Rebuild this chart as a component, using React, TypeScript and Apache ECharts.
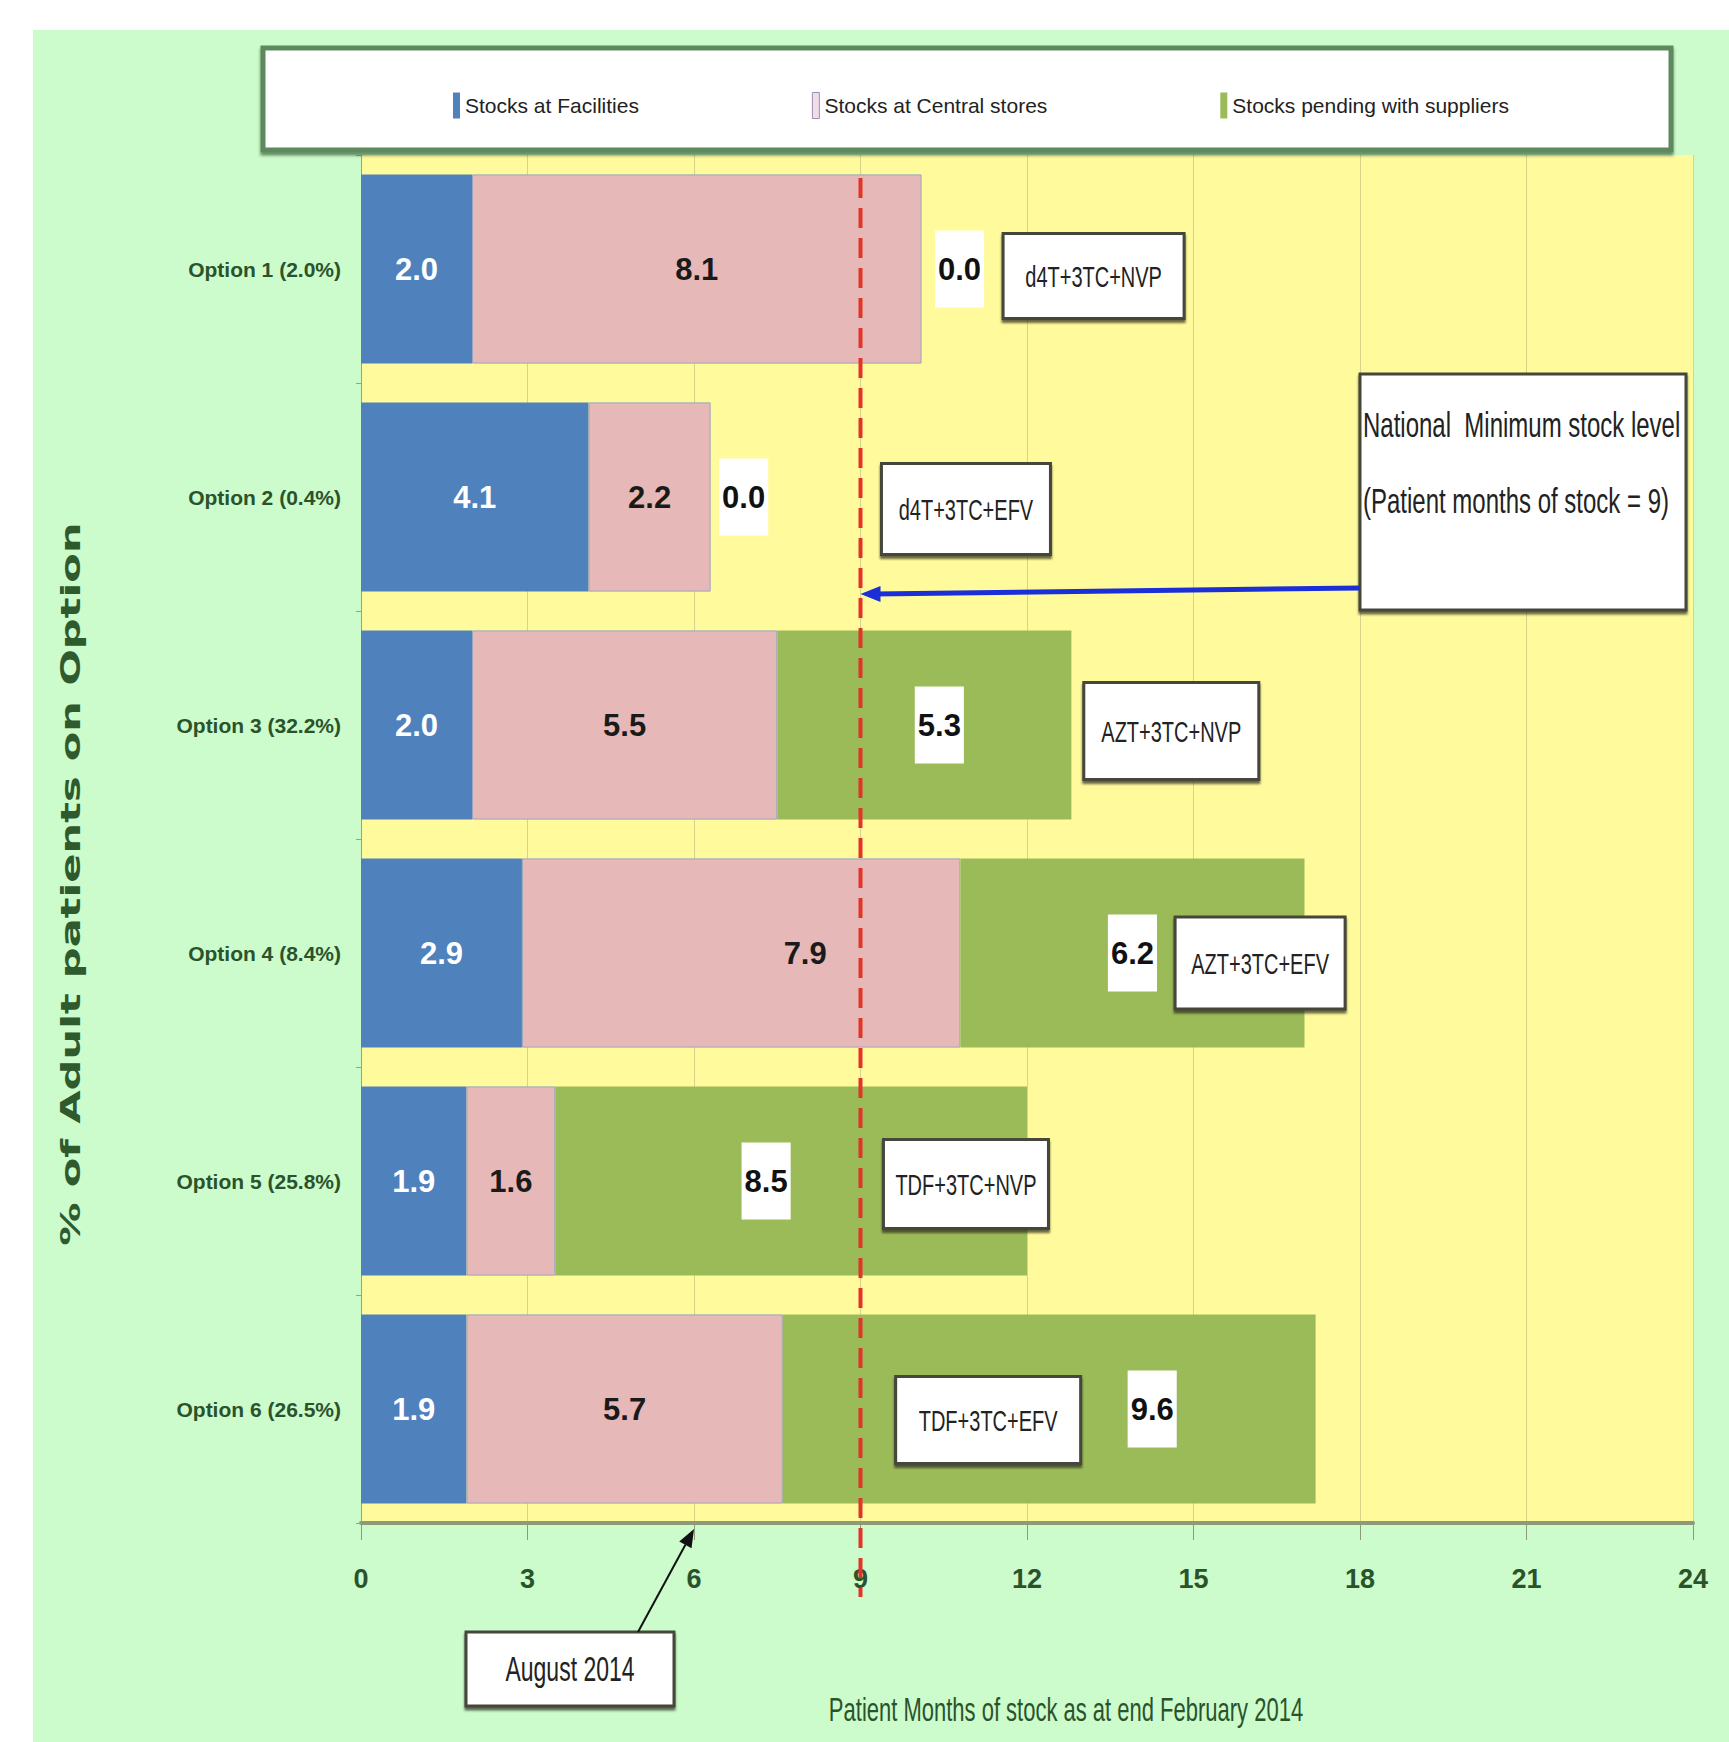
import React, { useEffect, useRef } from "react";
import * as echarts from "echarts";

const categories = [
  "Option 1 (2.0%)",
  "Option 2 (0.4%)",
  "Option 3 (32.2%)",
  "Option 4 (8.4%)",
  "Option 5 (25.8%)",
  "Option 6 (26.5%)",
];
const facilities = [2.0, 4.1, 2.0, 2.9, 1.9, 1.9];
const central = [8.1, 2.2, 5.5, 7.9, 1.6, 5.7];
const pending = [0.0, 0.0, 5.3, 6.2, 8.5, 9.6];
const regimens = ["d4T+3TC+NVP", "d4T+3TC+EFV", "AZT+3TC+NVP", "AZT+3TC+EFV", "TDF+3TC+NVP", "TDF+3TC+EFV"];
const regimenAt = [13.2, 10.9, 14.6, 16.2, 10.9, 11.3];
const seriesNames = ["Stocks at Facilities", "Stocks at Central stores", "Stocks pending with suppliers"];
const xMin = 0;
const xMax = 24;
const xInterval = 3;
const minStockLevel = 9;
const augustMark = 6;
const noteAnchor = 18;

const SANS = '"Liberation Sans", Arial, sans-serif';
const DARKGREEN = "#2b532b";
const GRID = { left: 361, right: 36, top: 155, bottom: 219 };
const W = 1729;
const H = 1742;
const TALL = 1.5;

export default function App() {
  const ref = useRef<HTMLDivElement>(null);
  useEffect(() => {
    const chart = echarts.init(ref.current!, null, { renderer: "svg" });
    const centralOffsets = [0, 0, 0, 64, 0, 0];
    const pendingOffsets = [38, 33, 15, 0, -25, 103];
    const boxW = [181, 169, 175, 170, 165, 185];
    const boxH = [85, 91, 97, 92, 89, 87];
    const boxDy = [7, 12, 6, 10, 3, 11];

    const valueLabel = (color: string) => ({
      show: true,
      position: "inside",
      color,
      fontFamily: SANS,
      fontWeight: "bold",
      fontSize: 31,
      formatter: (p: any) => Number(p.value).toFixed(1),
    });

    chart.setOption({
      animation: false,
      backgroundColor: "#ccfbcc",
      textStyle: { fontFamily: SANS },
      legend: {
        left: 448,
        top: 87,
        itemGap: 173,
        itemWidth: 7,
        itemHeight: 26,
        icon: "rect",
        textStyle: { fontFamily: SANS, fontSize: 21, color: "#222" },
        data: [
          { name: seriesNames[0] },
          { name: seriesNames[1], itemStyle: { color: "#f0dde8", borderColor: "#9a8fb0", borderWidth: 1 } },
          { name: seriesNames[2] },
        ],
      },
      grid: {
        ...GRID,
        show: true,
        backgroundColor: "#fffa9c",
        borderWidth: 0,
      },
      xAxis: {
        type: "value",
        min: xMin,
        max: xMax,
        interval: xInterval,
        axisLine: { show: true, lineStyle: { color: "#8c9a78", width: 4 } },
        axisTick: { show: true, length: 17, lineStyle: { color: "#8c9a78", width: 1 } },
        axisLabel: { color: DARKGREEN, fontFamily: SANS, fontWeight: "bold", fontSize: 27, margin: 42 },
        splitLine: { show: true, lineStyle: { color: "#d6d48c", width: 1 } },
      },
      yAxis: {
        type: "category",
        data: categories,
        inverse: true,
        axisLine: { show: true, lineStyle: { color: "#9aa08a", width: 1 } },
        axisTick: { show: true, length: 5, lineStyle: { color: "#9aa08a" } },
        axisLabel: { color: DARKGREEN, fontFamily: SANS, fontWeight: "bold", fontSize: 21, margin: 20 },
        splitLine: { show: false },
      },
      series: [
        {
          name: seriesNames[0],
          type: "bar",
          stack: "stock",
          barCategoryGap: "17%",
          itemStyle: { color: "#4f81bd" },
          label: valueLabel("#ffffff"),
          data: facilities,
        },
        {
          name: seriesNames[1],
          type: "bar",
          stack: "stock",
          itemStyle: { color: "#e6b8b7", borderColor: "#9aa6bf", borderWidth: 1 },
          label: valueLabel("#1a1a1a"),
          data: central.map((v, i) => ({ value: v, label: { offset: [centralOffsets[i], 0] } })),
        },
        {
          name: seriesNames[2],
          type: "bar",
          stack: "stock",
          itemStyle: { color: "#9bbb59" },
          label: {
            ...valueLabel("#111111"),
            backgroundColor: "#ffffff",
            padding: [24, 3, 22, 3],
          },
          data: pending.map((v, i) => ({ value: v, label: { offset: [pendingOffsets[i], 0] } })),
        },
      ],
    });

    const xp = (v: number) => chart.convertToPixel({ xAxisIndex: 0 }, v) as number;
    const yp = (c: string) => chart.convertToPixel({ yAxisIndex: 0 }, c) as number;
    const plotBottom = H - GRID.bottom;
    const x9 = xp(minStockLevel);
    const x6 = xp(augustMark);
    const x18 = xp(noteAnchor);

    // August arrow geometry
    const ax0 = x6 - 56, ay0 = 1632, ax1 = x6, ay1 = plotBottom + 6;
    const len = Math.hypot(ax1 - ax0, ay1 - ay0);
    const ux = (ax1 - ax0) / len, uy = (ay1 - ay0) / len;
    const head = 18, hw = 7;
    const bx = ax1 - ux * head, by = ay1 - uy * head;

    const boxStyle = {
      fill: "#ffffff",
      stroke: "#45473a",
      lineWidth: 3,
      shadowColor: "rgba(40,40,30,0.7)",
      shadowOffsetY: 3,
      shadowBlur: 2,
    };

    const tallText = (x: number, y: number, text: string, size: number, align: string, fill = "#222", weight = "normal") => ({
      type: "text",
      x,
      y,
      scaleY: TALL,
      style: { text, fill, font: `${weight} ${size}px ${SANS}`, align, verticalAlign: "middle" },
      z: 61,
      silent: true,
    });

    const regimenBoxes: any[] = [];
    regimens.forEach((r, i) => {
      const cx = xp(regimenAt[i]);
      const cy = yp(categories[i]) + boxDy[i];
      regimenBoxes.push({
        type: "rect",
        shape: { x: cx - boxW[i] / 2, y: cy - boxH[i] / 2, width: boxW[i], height: boxH[i] },
        style: boxStyle,
        z: 60,
        silent: true,
      });
      regimenBoxes.push(tallText(cx, cy, r, 20, "center"));
    });

    chart.setOption({
      graphic: {
        elements: [
          { type: "rect", shape: { x: 0, y: 0, width: W, height: 30 }, style: { fill: "#ffffff" }, silent: true },
          { type: "rect", shape: { x: 0, y: 0, width: 33, height: H }, style: { fill: "#ffffff" }, silent: true },
          {
            type: "rect",
            shape: { x: 263, y: 48, width: 1408, height: 102 },
            style: { fill: "#ffffff", stroke: "#5d8a5d", lineWidth: 5, shadowColor: "rgba(30,60,30,0.6)", shadowOffsetY: 3, shadowBlur: 3 },
            z: 1,
            silent: true,
          },
          {
            type: "line",
            shape: { x1: x9, y1: GRID.top + 23, x2: x9, y2: 1597 },
            style: { stroke: "#e3342a", lineWidth: 4, lineDash: [20, 10] },
            z: 50,
            silent: true,
          },
          ...regimenBoxes,
          {
            type: "rect",
            shape: { x: x18, y: 374, width: 326, height: 236 },
            style: boxStyle,
            z: 60,
            silent: true,
          },
          tallText(x18 + 3, 424, "National  Minimum stock level", 24, "left"),
          tallText(x18 + 3, 500, "(Patient months of stock = 9)", 24, "left"),
          {
            type: "line",
            shape: { x1: x18, y1: 588, x2: x9 + 14, y2: 594 },
            style: { stroke: "#1b2fd8", lineWidth: 5 },
            z: 62,
            silent: true,
          },
          {
            type: "polygon",
            shape: { points: [[x9, 594], [x9 + 20, 586], [x9 + 20, 602]] },
            style: { fill: "#1b2fd8" },
            z: 62,
            silent: true,
          },
          {
            type: "rect",
            shape: { x: x6 - 228, y: 1632, width: 208, height: 74 },
            style: boxStyle,
            z: 60,
            silent: true,
          },
          tallText(x6 - 124, 1669, "August 2014", 23, "center"),
          {
            type: "line",
            shape: { x1: ax0, y1: ay0, x2: bx, y2: by },
            style: { stroke: "#111", lineWidth: 2 },
            z: 62,
            silent: true,
          },
          {
            type: "polygon",
            shape: { points: [[ax1, ay1], [bx - uy * hw, by + ux * hw], [bx + uy * hw, by - ux * hw]] },
            style: { fill: "#111" },
            z: 62,
            silent: true,
          },
          tallText(1066, 1710, "Patient Months of stock as at end February 2014", 22, "center", DARKGREEN),
          {
            type: "text",
            x: 71,
            y: 884,
            rotation: Math.PI / 2,
            scaleX: 1.6,
            style: { text: "% of Adult patients on Option", fill: "#2e5a2e", font: `bold 27px "DejaVu Sans", sans-serif`, align: "center", verticalAlign: "middle" },
            z: 61,
            silent: true,
          },
        ],
      },
    });
    return () => chart.dispose();
  }, []);
  return <div ref={ref} style={{ position: "absolute", left: 0, top: 0, width: W, height: H }} />;
}
